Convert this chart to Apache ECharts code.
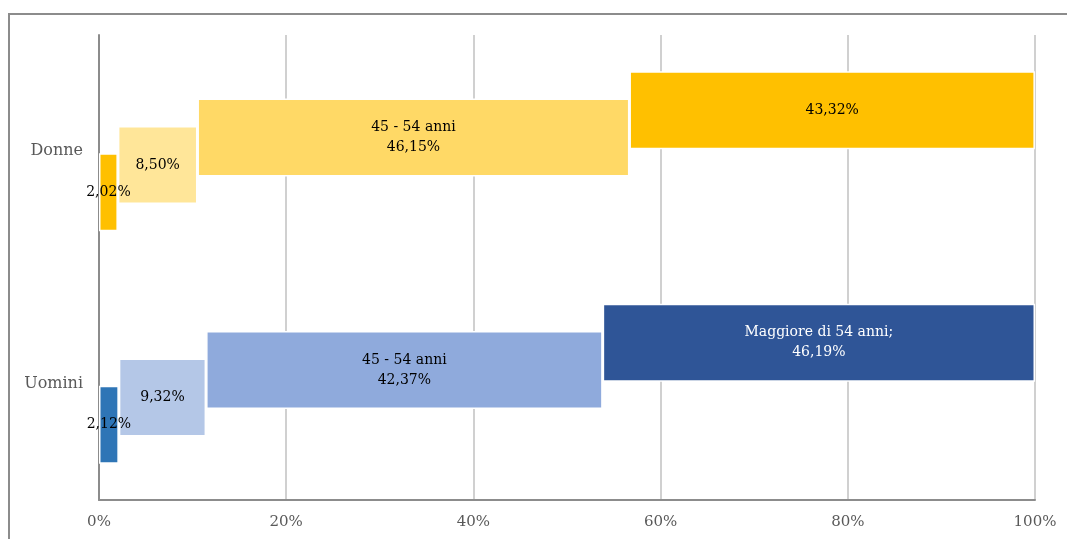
<!DOCTYPE html>
<html><head><meta charset="utf-8">
<script src="https://cdn.jsdelivr.net/npm/echarts@6/dist/echarts.min.js"></script>
<style>html,body{margin:0;padding:0;background:#fff}#c{width:1067px;height:539px}</style>
</head><body><div id="c"></div>
<script>
var categories = ['Uomini', 'Donne'];
var seriesNames = ['Meno di 35 anni', '35 - 44 anni', '45 - 54 anni', 'Maggiore di 54 anni'];
// values per series: [Uomini, Donne]
var ageA = [2.12, 2.02];
var ageB = [9.32, 8.50];
var ageC = [42.37, 46.15];
var ageD = [46.19, 43.32];
var xTicks = [0, 20, 40, 60, 80, 100];
var colorsUomini = ['#2E75B6', '#B4C7E7', '#8FAADC', '#2F5597'];
var colorsDonne = ['#FFC000', '#FFE699', '#FFD966', '#FFC000'];
// which labels show the series name: [Uomini, Donne]
var showName = [[false, false], [false, false], [true, true], [true, false]];
var nameSuffix = ['', '', '', ';'];

var values = [ageA, ageB, ageC, ageD];
var fontFam = 'DejaVu Serif';
var bases = [];
var cum = [0, 0];
values.forEach(function (vals) {
  bases.push(cum.slice());
  cum = cum.map(function (c, j) { return c + vals[j]; });
});
var series = [];
// pushed in reverse so that the first age group sits lowest in each cluster
for (var k = values.length - 1; k >= 0; k--) {
  (function (i) {
    var vals = values[i];
    series.push({
      type: 'bar', stack: 's' + i, barWidth: 78, barGap: '-65%',
      data: bases[i], itemStyle: { color: 'transparent' }, silent: true, label: { show: false }
    });
    series.push({
      type: 'bar', stack: 's' + i, name: seriesNames[i], barWidth: 78, barGap: '-65%',
      data: vals.map(function (v, j) {
        return {
          value: v,
          itemStyle: { color: j === 0 ? colorsUomini[i] : colorsDonne[i], borderColor: '#fff', borderWidth: 1.5 },
          label: { color: (j === 0 && i === 3) ? '#fff' : '#000' }
        };
      }),
      label: {
        show: true, position: 'inside', fontFamily: fontFam, fontSize: 14, lineHeight: 20,
        formatter: function (p) {
          var t = p.value.toFixed(2).replace('.', ',') + '%';
          if (showName[i][p.dataIndex]) t = seriesNames[i] + nameSuffix[i] + '\n' + t;
          return t;
        }
      }
    });
  })(k);
}

var chart = echarts.init(document.getElementById('c'));
chart.setOption({
  animation: false,
  graphic: [{ type: 'rect', shape: { x: 9, y: 14, width: 1100, height: 600 }, style: { fill: 'none', stroke: '#8c8c8c', lineWidth: 2 }, z: -1 }],
  grid: { left: 99, right: 32, top: 35, bottom: 39 },
  xAxis: {
    type: 'value', min: xTicks[0], max: xTicks[xTicks.length - 1], interval: 20,
    axisLine: { show: true, lineStyle: { color: '#8c8c8c', width: 2 } },
    axisTick: { show: false },
    splitLine: { show: true, lineStyle: { color: '#d0d0d0', width: 2 } },
    axisLabel: { formatter: '{value}%', color: '#595959', fontFamily: fontFam, fontSize: 15, margin: 15 }
  },
  yAxis: {
    type: 'category', data: categories,
    axisLine: { show: true, lineStyle: { color: '#8c8c8c', width: 2 } },
    axisTick: { show: false },
    axisLabel: { color: '#595959', fontFamily: fontFam, fontSize: 16, margin: 16 }
  },
  series: series
});
</script></body></html>
